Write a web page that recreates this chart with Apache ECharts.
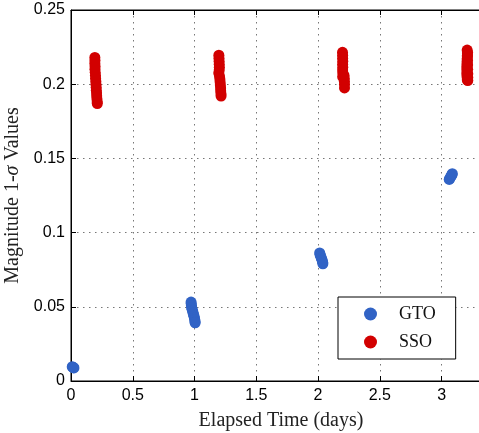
<!DOCTYPE html>
<html>
<head>
<meta charset="utf-8">
<script src="https://cdn.jsdelivr.net/npm/echarts@6/dist/echarts.min.js"></script>
<style>html,body{margin:0;padding:0;background:#fff;}#c{width:479px;height:433px;}</style>
</head>
<body>
<div id="c"></div>
<script>
// GTO observations (elapsed days, 1-sigma magnitude)
const gtoTime = [0.010,0.015,0.020,0.024,
  0.972,0.973,0.975,0.977,0.980,0.984,0.988,0.992,0.996,0.999,1.002,1.004,1.005,
  2.013,2.016,2.020,2.025,2.030,2.034,2.037,2.039,
  3.062,3.067,3.073,3.079,3.084,3.087];
const gtoMag = [0.0096,0.0093,0.0090,0.0088,
  0.0532,0.0520,0.0508,0.0496,0.0484,0.0472,0.0460,0.0448,0.0436,0.0424,0.0412,0.0400,0.0392,
  0.0863,0.0853,0.0843,0.0832,0.0821,0.0810,0.0800,0.0790,
  0.1358,0.1366,0.1374,0.1383,0.1391,0.1397];
// SSO observations
const ssoTime = [0.193,0.194,0.193,0.195,0.194,0.196,0.198,0.199,0.201,0.202,0.204,0.205,0.207,0.208,0.210,0.212,0.213,
  1.197,1.198,1.199,1.200,1.201,1.200,1.196,1.202,1.205,1.207,1.209,1.211,1.212,1.214,1.215,
  2.198,2.199,2.199,2.200,2.199,2.200,2.199,2.200,2.199,2.210,2.212,2.213,2.214,2.214,
  3.207,3.209,3.208,3.207,3.206,3.205,3.204,3.205,3.204,3.206,3.208,3.212,3.212,3.212,3.211,3.211,3.210,3.210,3.210];
const ssoMag = [0.218,0.216,0.214,0.212,0.210,0.208,0.206,0.204,0.202,0.200,0.198,0.196,0.194,0.192,0.190,0.188,0.187,
  0.2195,0.2175,0.2155,0.2135,0.2115,0.2095,0.2075,0.2055,0.2035,0.2015,0.1995,0.1975,0.1955,0.1935,0.1920,
  0.2215,0.2195,0.2175,0.2155,0.2135,0.2115,0.2095,0.2075,0.2050,0.2060,0.2040,0.2020,0.2000,0.1975,
  0.2230,0.2210,0.2190,0.2170,0.2150,0.2130,0.2110,0.2090,0.2070,0.2050,0.2030,0.2025,0.2045,0.2070,0.2100,0.2130,0.2160,0.2190,0.2215];
const seriesNames = ['GTO','SSO'];
const xTickStep = 0.5;
const yTickStep = 0.05;

const pairs = (xs, ys) => xs.map((x, i) => [x, ys[i]]);
const serif = 'Liberation Serif';
const sans = 'Liberation Sans';
const grid = {type: [1.5, 4.5], color: '#777', width: 1};

const chart = echarts.init(document.getElementById('c'), null, {renderer: 'canvas'});
chart.setOption({
  animation: false,
  backgroundColor: '#fff',
  grid: {left: 71, top: 10, width: 420, height: 371, outerBoundsMode: 'none',
    show: true, borderColor: '#000', borderWidth: 1, backgroundColor: 'transparent'},
  legend: {
    left: 338, top: 297, orient: 'vertical',
    padding: [8, 20, 8, 26], itemWidth: 13, itemHeight: 13, itemGap: 10,
    borderColor: '#000', borderWidth: 1, backgroundColor: '#fff',
    icon: 'circle',
    textStyle: {fontFamily: serif, fontSize: 18, lineHeight: 18, color: '#111', padding: [0, 0, 0, 17]},
    data: seriesNames
  },
  xAxis: [{
    type: 'value', min: 0, max: 3.4, interval: xTickStep,
    name: 'Elapsed Time (days)', nameLocation: 'middle', nameGap: 30,
    nameTextStyle: {fontFamily: serif, fontSize: 20, color: '#222'},
    axisLine: {show: true, onZero: false, lineStyle: {color: '#000', width: 1}},
    axisTick: {show: true, inside: true, length: 5, lineStyle: {color: '#000'}},
    axisLabel: {fontFamily: sans, fontSize: 16, color: '#000', margin: 7, showMaxLabel: false},
    splitLine: {show: true, lineStyle: grid}
  }, {
    type: 'value', position: 'top', gridIndex: 0, min: 0, max: 3.4, interval: xTickStep,
    axisLine: {show: true, onZero: false, lineStyle: {color: '#000', width: 1}},
    axisTick: {show: true, inside: true, length: 5, lineStyle: {color: '#000'}},
    axisLabel: {show: false}, splitLine: {show: false}
  }],
  yAxis: [{
    type: 'value', min: 0, max: 0.25, interval: yTickStep,
    name: 'Magnitude 1-{i|σ} Values', nameLocation: 'middle', nameGap: 45,
    nameTextStyle: {fontFamily: serif, fontSize: 20, color: '#222',
      rich: {i: {fontFamily: serif, fontStyle: 'italic', fontSize: 20, color: '#222'}}},
    axisLine: {show: true, onZero: false, lineStyle: {color: '#000', width: 1}},
    axisTick: {show: true, inside: true, length: 5, lineStyle: {color: '#000'}},
    axisLabel: {fontFamily: sans, fontSize: 16, color: '#000', margin: 6},
    splitLine: {show: true, lineStyle: grid}
  }],
  series: [{
    name: seriesNames[0], type: 'scatter', symbol: 'circle', symbolSize: 11,
    itemStyle: {color: '#3163c5', opacity: 1},
    data: pairs(gtoTime, gtoMag)
  }, {
    name: seriesNames[1], type: 'scatter', symbol: 'circle', symbolSize: 11,
    itemStyle: {color: '#d20000', opacity: 1},
    data: pairs(ssoTime, ssoMag)
  }]
});
</script>
</body>
</html>
